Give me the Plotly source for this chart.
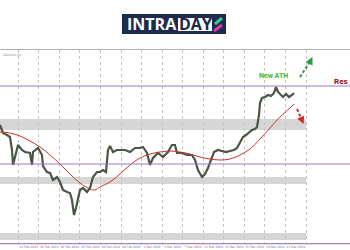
import plotly.graph_objects as go

# ---- data ----
bar_x = [0, 3, 7, 10, 12, 13, 15, 18, 22, 25, 30, 32, 33, 38, 42, 43, 47, 50, 53, 57,
         60, 63, 67, 70, 72, 73, 74, 76, 78, 80, 83, 87, 90, 93, 97, 100, 103, 106, 108, 110,
         113, 117, 120, 125, 130, 135, 140, 143, 147, 150, 153, 158, 163, 168, 172, 175, 177, 182, 187, 192,
         195, 198, 202, 205, 208, 211, 214, 218, 222, 226, 230, 234, 237, 240, 243, 246, 249, 252, 255, 257,
         259, 260, 262, 265, 268, 271, 274, 276, 278, 280, 283, 286, 289, 292, 294]
price = [2118, 2110, 2108, 2106, 2093, 2078, 2086, 2098, 2093, 2091, 2090, 2078, 2091, 2095, 2088, 2077, 2071, 2070, 2063, 2066,
         2061, 2053, 2051, 2050, 2043, 2033, 2028, 2035, 2043, 2053, 2055, 2051, 2055, 2066, 2071, 2071, 2073, 2071, 2093, 2097,
         2091, 2093, 2093, 2093, 2091, 2095, 2095, 2096, 2090, 2078, 2085, 2090, 2086, 2091, 2098, 2098, 2090, 2090, 2088, 2088,
         2083, 2073, 2066, 2069, 2075, 2083, 2091, 2093, 2092, 2091, 2092, 2093, 2095, 2101, 2106, 2108, 2111, 2113, 2114, 2116,
         2128, 2140, 2145, 2146, 2148, 2147, 2150, 2156, 2151, 2149, 2146, 2149, 2146, 2148, 2150]

ma_x = [0, 10, 20, 30, 40, 50, 60, 70, 80, 90, 95, 100, 110, 120, 130, 140, 150, 160, 170, 180,
        190, 200, 210, 220, 230, 240, 250, 260, 270, 280, 290, 294]
ma = [2111, 2110, 2107, 2102, 2096, 2088, 2079, 2069, 2060, 2054, 2053, 2056, 2061, 2069, 2078, 2085, 2089, 2091, 2092, 2091,
      2089, 2086, 2084, 2083, 2084, 2088, 2094, 2104, 2115, 2126, 2135, 2139]

resistance_levels = [2157, 2079]
zones = [(2113, 2124), (2059, 2066), (2003, 2010)]

tick_labels = ["12 Feb 2024", "14 Feb 2024", "16 Feb 2024", "20 Feb 2024", "22 Feb 2024",
               "26 Feb 2024", "28 Feb 2024", "1 Mar 2024", "5 Mar 2024", "7 Mar 2024",
               "11 Mar 2024", "13 Mar 2024", "15 Mar 2024", "19 Mar 2024", "21 Mar 2024"]

grid_x = [18.3 + 20.55 * k for k in range(15)]
label_x = [g - 10.2 for g in grid_x]
zone_end = grid_x[-1]

fig = go.Figure()
fig.add_trace(go.Scatter(x=bar_x, y=price, mode="lines",
                         line=dict(color="#4a5644", width=2.2), hoverinfo="skip"))
fig.add_trace(go.Scatter(x=ma_x, y=ma, mode="lines", line_shape="spline",
                         line=dict(color="#c8342c", width=1), hoverinfo="skip"))

shapes = []
for lo, hi in zones:
    shapes.append(dict(type="rect", xref="x", yref="y", x0=0, x1=zone_end, y0=lo, y1=hi,
                       fillcolor="#d6d6d6", line=dict(width=0), layer="below"))
for lvl in resistance_levels:
    shapes.append(dict(type="line", xref="paper", yref="y", x0=0, x1=1, y0=lvl, y1=lvl,
                       line=dict(color="#a276c9", width=1.2)))
# bottom purple line just under the axis
shapes.append(dict(type="line", xref="paper", yref="paper", x0=0, x1=1, y0=-0.004, y1=-0.004,
                   line=dict(color="#a276c9", width=1.2)))
# dashed arrows
shapes.append(dict(type="line", xref="x", yref="y", x0=300, y0=2166, x1=310.5, y1=2182,
                   line=dict(color="#2f9a3a", width=2, dash="3px,2px")))
shapes.append(dict(type="line", xref="x", yref="y", x0=297, y0=2134, x1=301.5, y1=2124,
                   line=dict(color="#d42a2a", width=2, dash="3px,2px")))

# logo (paper coordinates; plot area spans pixels 50..243 vertically)
def py(Y):
    return (243 - Y) / 193.0

def px(X):
    return X / 350.0

shapes.append(dict(type="rect", xref="paper", yref="paper", x0=px(122), x1=px(226), y0=py(34), y1=py(14),
                   fillcolor="#1d2b50", line=dict(width=0)))
shapes.append(dict(type="rect", xref="paper", yref="paper", x0=px(178), x1=px(212), y0=py(31), y1=py(18),
                   fillcolor="#ffffff", line=dict(width=0)))
shapes.append(dict(type="line", xref="paper", yref="paper", x0=px(215), y0=py(24), x1=px(222), y1=py(18),
                   line=dict(color="#3cc58a", width=3)))
shapes.append(dict(type="line", xref="paper", yref="paper", x0=px(214), y0=py(31), x1=px(222), y1=py(25),
                   line=dict(color="#e0389e", width=3)))

annotations = [
    dict(xref="paper", yref="paper", x=px(152), y=py(24.5), text="<b>INTRA</b>", showarrow=False,
         font=dict(family="Open Sans", size=16, color="#ffffff"), xanchor="center", yanchor="middle"),
    dict(xref="paper", yref="paper", x=px(195), y=py(24.5), text="<b>DAY</b>", showarrow=False,
         font=dict(family="Open Sans", size=16, color="#1d2b50"), xanchor="center", yanchor="middle"),
    dict(xref="x", yref="y", x=273, y=2167, text="<b>New ATH</b>", showarrow=False,
         font=dict(family="Roboto", size=7, color="#3cb83c"), xanchor="center", yanchor="middle"),
    dict(xref="paper", yref="y", x=1.0, y=2162, text="<b>Res</b>", showarrow=False,
         font=dict(family="Roboto", size=8, color="#8e1010"), xanchor="right", yanchor="middle"),
    dict(xref="x", yref="y", x=312.5, y=2186, ax=310.5, ay=2182, axref="x", ayref="y", text="",
         showarrow=True, arrowhead=2, arrowsize=1.0, arrowwidth=1.5, arrowcolor="#2f9a3a"),
    dict(xref="x", yref="y", x=303.5, y=2119, ax=301.5, ay=2124, axref="x", ayref="y", text="",
         showarrow=True, arrowhead=2, arrowsize=1.0, arrowwidth=1.5, arrowcolor="#d42a2a"),
    dict(xref="paper", yref="paper", x=0.003, y=0.995, text="XAUUSD,H4", showarrow=False,
         font=dict(family="DejaVu Sans", size=3, color="#888888"), xanchor="left", yanchor="top"),
]

fig.update_layout(
    width=350, height=250,
    margin=dict(l=0, r=0, t=50, b=7),
    paper_bgcolor="#ffffff", plot_bgcolor="#ffffff",
    showlegend=False,
    shapes=shapes, annotations=annotations,
    xaxis=dict(range=[0, 350], tickvals=label_x, ticktext=tick_labels, showgrid=False,
               tickangle=0, automargin=False,
               tickfont=dict(family="DejaVu Sans", size=3, color="#777777"), ticks="", ticklen=0,
               showline=True, mirror=True, linecolor="#b0b0b0", linewidth=1, zeroline=False,
               minor=dict(tickvals=grid_x, showgrid=True, gridcolor="#c4c4c4", griddash="dot", gridwidth=1)),
    yaxis=dict(range=[2000, 2193], showgrid=False, showticklabels=False, zeroline=False, ticks="",
               automargin=False),
)

fig.write_html("out.html")
